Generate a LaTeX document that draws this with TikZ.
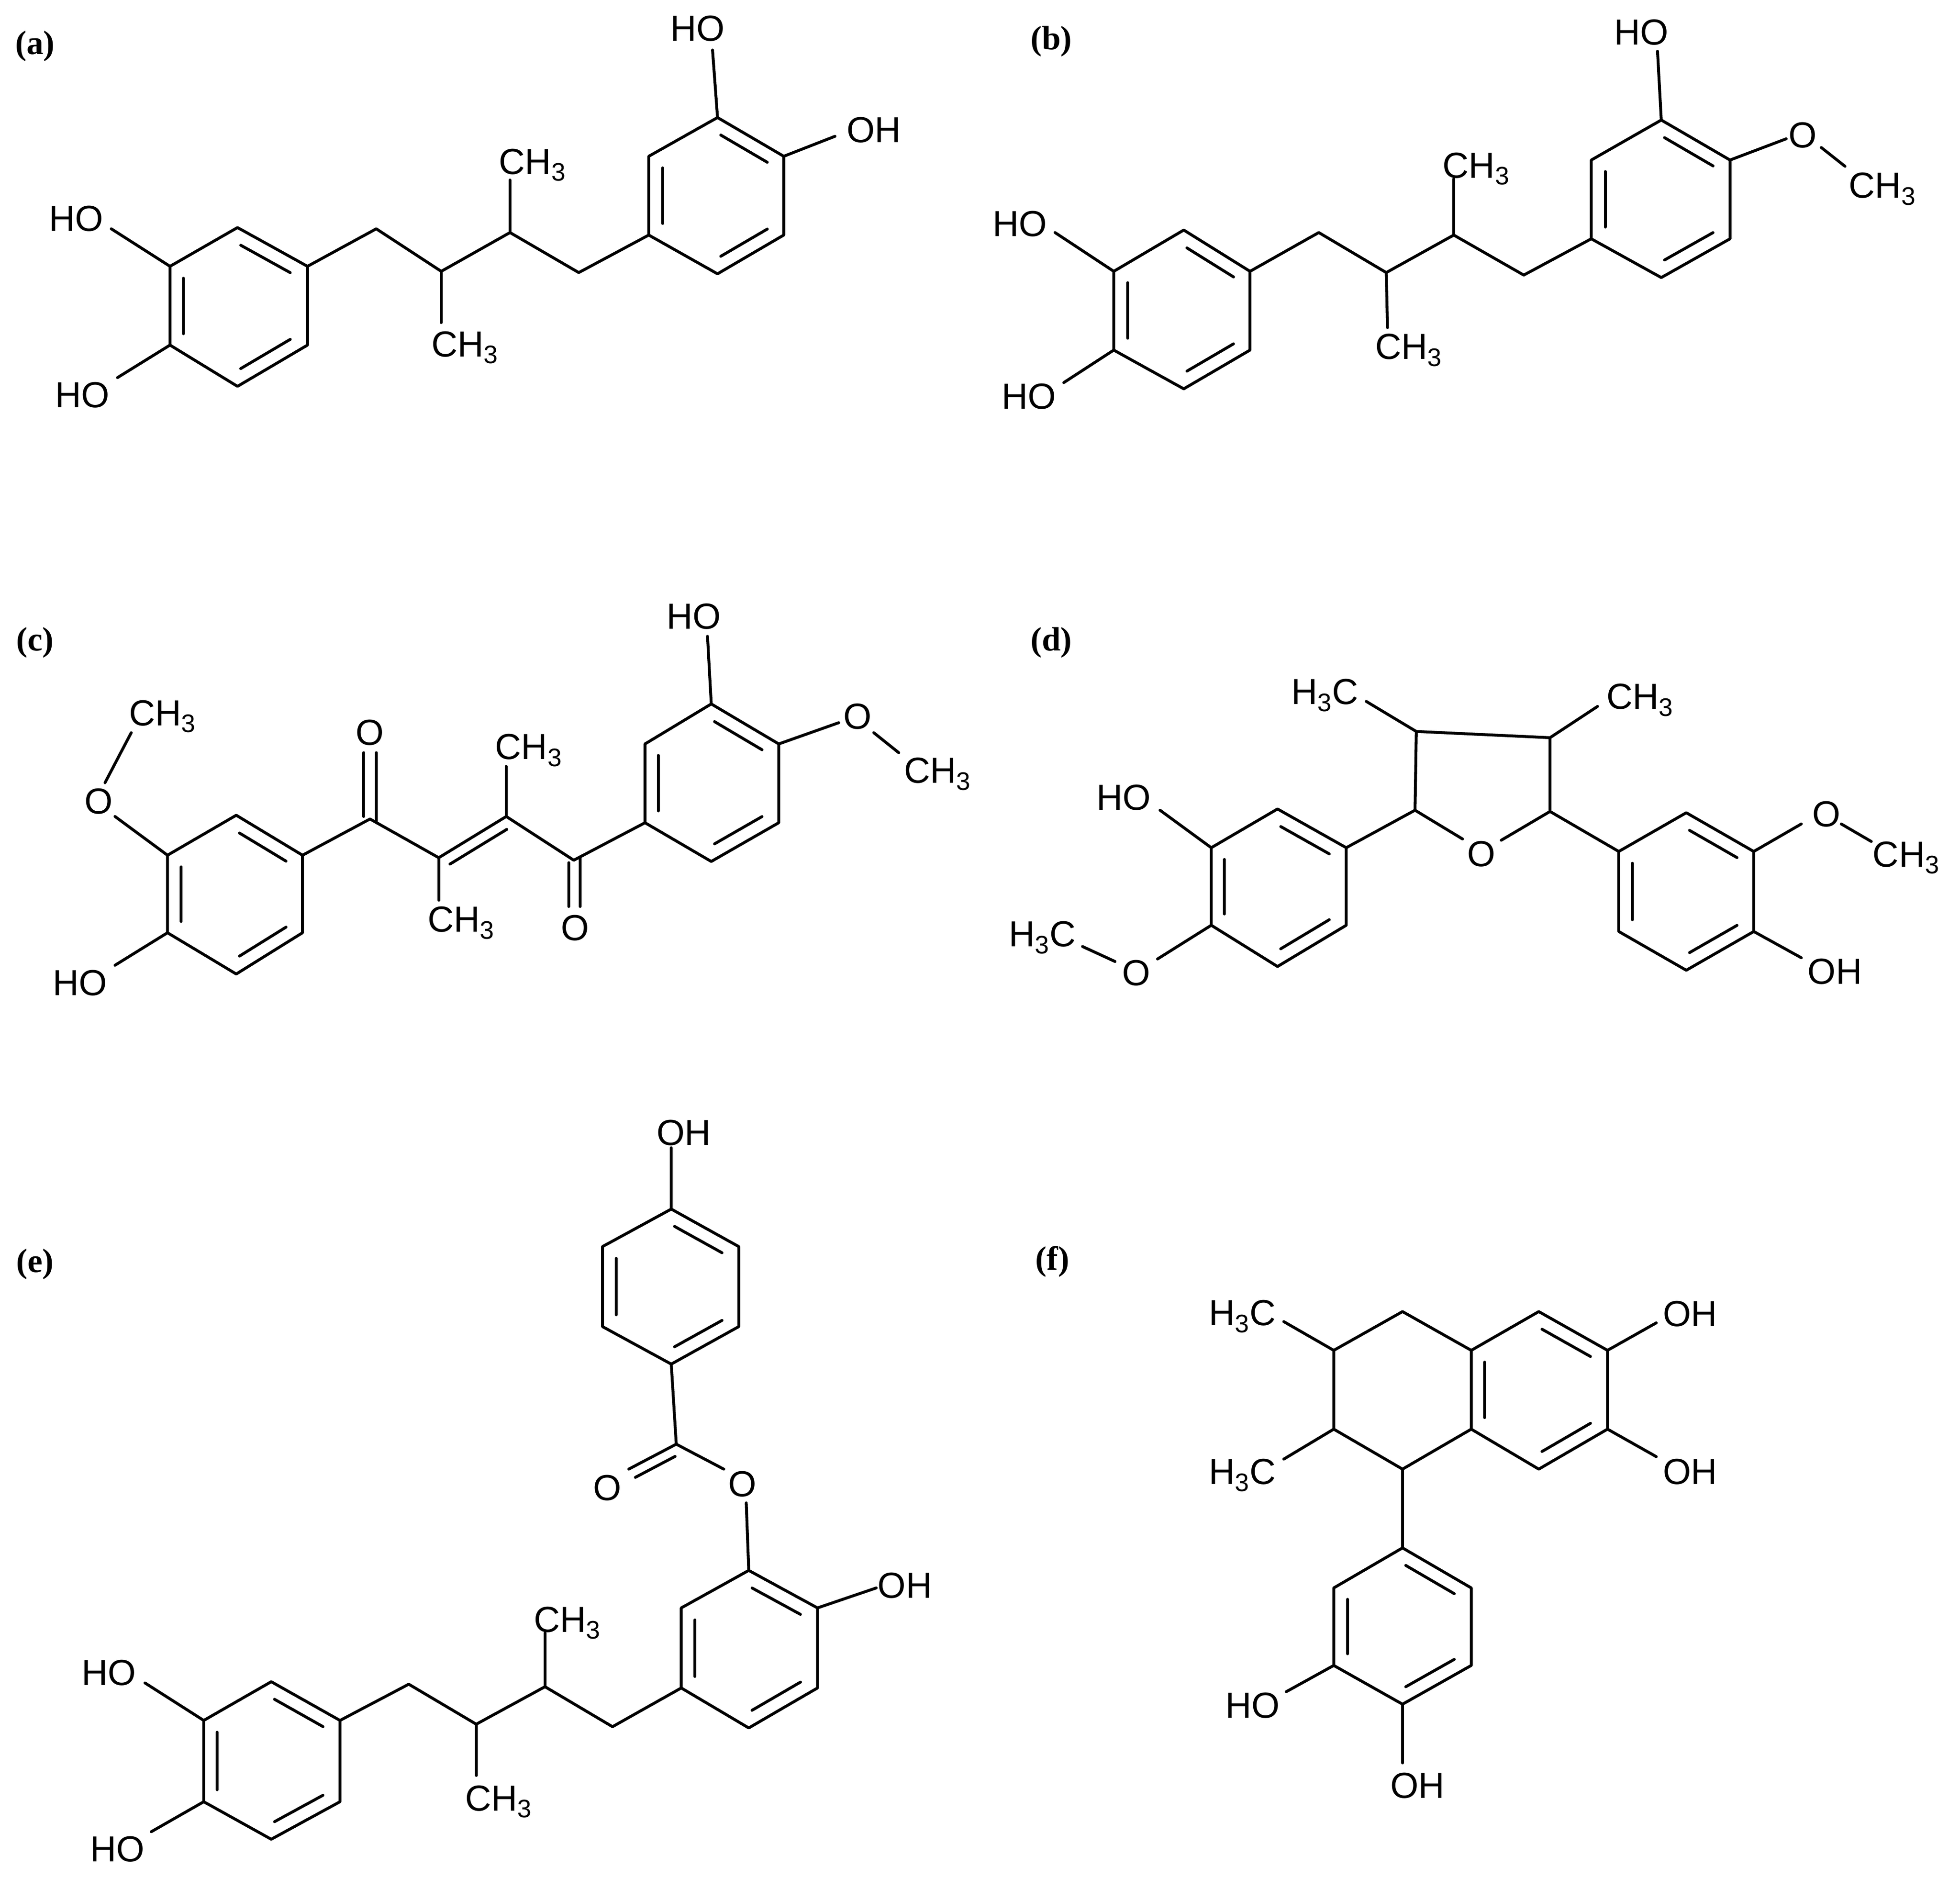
\documentclass[tikz,border=0pt]{standalone}
\usepackage{fontspec}
\setmainfont{Liberation Sans}
\newfontfamily\labfont{Liberation Serif}
\usetikzlibrary{calc}
\tikzset{
  bond/.style={line width=2.3pt, line cap=round, line join=round},
  lbl/.style={font=\fontsize{29}{30}\selectfont, inner sep=0pt},
  panel/.style={font=\labfont\bfseries\fontsize{27}{29}\selectfont, inner sep=0pt}
}
\newcommand\ringP[6]{%
  \draw[bond] (#1)--(#2)--(#3)--(#4)--(#5)--(#6)--cycle;
  \coordinate (rc) at ($(#1)!0.5!(#4)$);
  \draw[bond,shorten <=3pt,shorten >=3pt] ($(rc)!0.8!(#1)$)--($(rc)!0.8!(#2)$);
  \draw[bond,shorten <=3pt,shorten >=3pt] ($(rc)!0.8!(#3)$)--($(rc)!0.8!(#4)$);
  \draw[bond,shorten <=3pt,shorten >=3pt] ($(rc)!0.8!(#5)$)--($(rc)!0.8!(#6)$);
}
\newcommand\CHt{CH\textsubscript{3}}
\newcommand\HtC{H\textsubscript{3}C}
\begin{document}
\begin{tikzpicture}[x=1pt,y=-1pt]
\useasboundingbox (0,0) rectangle (1568,1502);
\fill[white] (0,0) rectangle (1568,1502);
% ===== (a)
\node[panel] (la) at (28,37) {(a)};
\coordinate (a1) at (190,182); \coordinate (a2) at (246,213); \coordinate (a3) at (246,276);
\coordinate (a4) at (190,309); \coordinate (a5) at (136,276); \coordinate (a6) at (136,213);
\ringP{a1}{a2}{a3}{a4}{a5}{a6}
\coordinate (ac1) at (301,183); \coordinate (ac2) at (353,217); \coordinate (ac3) at (408,186); \coordinate (ac4) at (463,218);
\coordinate (b1) at (574,94); \coordinate (b2) at (627,125); \coordinate (b3) at (627,188);
\coordinate (b4) at (574,219); \coordinate (b5) at (519,188); \coordinate (b6) at (519,125);
\ringP{b1}{b2}{b3}{b4}{b5}{b6}
\draw[bond] (a2)--(ac1)--(ac2)--(ac3)--(ac4)--(b5);
\coordinate (am1) at (353,258); \coordinate (am2) at (408,144);
\draw[bond] (ac2)--(am1); \draw[bond] (ac3)--(am2);
\node[lbl] (ame1) at (372,278) {\CHt};
\node[lbl] (ame2) at (426,132) {\CHt};
\coordinate (aho1) at (89,183); \coordinate (aho2) at (94,302);
\draw[bond] (a6)--(aho1); \draw[bond] (a5)--(aho2);
\node[lbl] (ahoT1) at (61,175) {HO};
\node[lbl] (ahoT2) at (66,316) {HO};
\coordinate (aho3) at (570,40); \coordinate (aho4) at (668,109);
\draw[bond] (b1)--(aho3); \draw[bond] (b2)--(aho4);
\node[lbl] (ahoT3) at (558,23) {HO};
\node[lbl] (ahoT4) at (699,104) {OH};
% ===== (b)
\node[panel] (lb) at (841,33) {(b)};
\coordinate (c1) at (947,184); \coordinate (c2) at (1000,217); \coordinate (c3) at (1000,280);
\coordinate (c4) at (947,311); \coordinate (c5) at (891,280); \coordinate (c6) at (891,217);
\ringP{c1}{c2}{c3}{c4}{c5}{c6}
\coordinate (bc1) at (1055,186); \coordinate (bc2) at (1109,218); \coordinate (bc3) at (1163,188); \coordinate (bc4) at (1219,220);
\coordinate (d1) at (1329,96); \coordinate (d2) at (1384,128); \coordinate (d3) at (1384,191);
\coordinate (d4) at (1329,222); \coordinate (d5) at (1273,191); \coordinate (d6) at (1273,128);
\ringP{d1}{d2}{d3}{d4}{d5}{d6}
\draw[bond] (c2)--(bc1)--(bc2)--(bc3)--(bc4)--(d5);
\coordinate (bm1) at (1110,262); \coordinate (bm2) at (1163,143);
\draw[bond] (bc2)--(bm1); \draw[bond] (bc3)--(bm2);
\node[lbl] (bme1) at (1127,280) {\CHt};
\node[lbl] (bme2) at (1181,135) {\CHt};
\coordinate (bho1) at (844,186); \coordinate (bho2) at (851,306);
\draw[bond] (c6)--(bho1); \draw[bond] (c5)--(bho2);
\node[lbl] (bhoT1) at (816,179) {HO};
\node[lbl] (bhoT2) at (823,317) {HO};
\coordinate (bho3) at (1326,41);
\draw[bond] (d1)--(bho3);
\node[lbl] (bhoT3) at (1313,26) {HO};
\coordinate (bo1) at (1429,111); \coordinate (bo2) at (1457,118); \coordinate (bo3) at (1476,133);
\draw[bond] (d2)--(bo1); \draw[bond] (bo2)--(bo3);
\node[lbl] (boT) at (1442,108) {O};
\node[lbl] (bmeT) at (1506,151) {\CHt};
% ===== (c)
\node[panel] (lc) at (28,514) {(c)};
\coordinate (e1) at (189,652); \coordinate (e2) at (242,684); \coordinate (e3) at (242,746);
\coordinate (e4) at (189,779); \coordinate (e5) at (134,746); \coordinate (e6) at (134,684);
\ringP{e1}{e2}{e3}{e4}{e5}{e6}
\coordinate (co1) at (92,653); \coordinate (co2) at (84,626); \coordinate (co3) at (105,586);
\draw[bond] (e6)--(co1); \draw[bond] (co2)--(co3);
\node[lbl] (coT) at (79,641) {O};
\node[lbl] (cmeT) at (130,573) {\CHt};
\coordinate (cho1) at (92,772);
\draw[bond] (e5)--(cho1);
\node[lbl] (choT) at (64,786) {HO};
\coordinate (k1) at (296,655); \coordinate (k2) at (351,686); \coordinate (k3) at (405,653); \coordinate (k4) at (459,688);
\coordinate (f1) at (569,563); \coordinate (f2) at (623,595); \coordinate (f3) at (623,658);
\coordinate (f4) at (569,689); \coordinate (f5) at (516,658); \coordinate (f6) at (516,595);
\ringP{f1}{f2}{f3}{f4}{f5}{f6}
\draw[bond] (e2)--(k1)--(k2)--(k3)--(k4)--(f5);
\draw[bond,shorten <=5pt,shorten >=5pt] ($(k2)+(4.7,7.7)$)--($(k3)+(4.7,7.7)$);
\coordinate (ko1a) at (291,653); \coordinate (ko1b) at (291,602);
\coordinate (ko1c) at (301,658); \coordinate (ko1d) at (301,602);
\draw[bond] (ko1a)--(ko1b); \draw[bond] (ko1c)--(ko1d);
\node[lbl] (ko1T) at (296,586) {O};
\coordinate (ko2a) at (455,690); \coordinate (ko2b) at (455,725);
\coordinate (ko2c) at (464,686); \coordinate (ko2d) at (464,725);
\draw[bond] (ko2a)--(ko2b); \draw[bond] (ko2c)--(ko2d);
\node[lbl] (ko2T) at (460,742) {O};
\coordinate (km1) at (351,720); \coordinate (km2) at (405,613);
\draw[bond] (k2)--(km1); \draw[bond] (k3)--(km2);
\node[lbl] (kme1) at (369,738) {\CHt};
\node[lbl] (kme2) at (423,600) {\CHt};
\coordinate (cho2) at (566,509);
\draw[bond] (f1)--(cho2);
\node[lbl] (choT2) at (555,493) {HO};
\coordinate (co4) at (671,578); \coordinate (co5) at (699,586); \coordinate (co6) at (719,602);
\draw[bond] (f2)--(co4); \draw[bond] (co5)--(co6);
\node[lbl] (coT2) at (686,573) {O};
\node[lbl] (cmeT2) at (750,619) {\CHt};
% ===== (d)
\node[panel] (ld) at (841,514) {(d)};
\coordinate (t1) at (1132,648); \coordinate (t2) at (1133,585); \coordinate (t3) at (1240,590); \coordinate (t5) at (1240,649);
\coordinate (to1) at (1170,671); \coordinate (to2) at (1201,672);
\draw[bond] (to1)--(t1)--(t2)--(t3)--(t5)--(to2);
\node[lbl] (toT) at (1185,683) {O};
\coordinate (tm1) at (1093,561); \coordinate (tm2) at (1278,565);
\draw[bond] (t2)--(tm1); \draw[bond] (t3)--(tm2);
\node[lbl] (tme1) at (1060,556) {\HtC};
\node[lbl] (tme2) at (1312,560) {\CHt};
\coordinate (g1) at (1022,647); \coordinate (g2) at (1077,678); \coordinate (g3) at (1077,740);
\coordinate (g4) at (1022,773); \coordinate (g5) at (969,740); \coordinate (g6) at (969,678);
\ringP{g1}{g2}{g3}{g4}{g5}{g6}
\draw[bond] (t1)--(g2);
\coordinate (dho1) at (928,648);
\draw[bond] (g6)--(dho1);
\node[lbl] (dhoT1) at (899,638) {HO};
\coordinate (do1) at (926,767); \coordinate (do2) at (892,769); \coordinate (do3) at (866,757);
\draw[bond] (g5)--(do1); \draw[bond] (do2)--(do3);
\node[lbl] (doT1) at (909,778) {O};
\node[lbl] (dmeT1) at (834,750) {\HtC};
\coordinate (h1) at (1349,650); \coordinate (h2) at (1403,681); \coordinate (h3) at (1403,745);
\coordinate (h4) at (1349,776); \coordinate (h5) at (1295,745); \coordinate (h6) at (1295,681);
\ringP{h1}{h2}{h3}{h4}{h5}{h6}
\draw[bond] (t5)--(h6);
\coordinate (do4) at (1441,659); \coordinate (do5) at (1473,659); \coordinate (do6) at (1497,673);
\draw[bond] (h2)--(do4); \draw[bond] (do5)--(do6);
\node[lbl] (doT2) at (1461,651) {O};
\node[lbl] (dmeT2) at (1525,686) {\CHt};
\coordinate (dho2) at (1441,766);
\draw[bond] (h3)--(dho2);
\node[lbl] (dhoT2) at (1468,777) {OH};
% ===== (e)
\node[panel] (le) at (28,1011) {(e)};
\coordinate (p1) at (537,967); \coordinate (p2) at (591,997); \coordinate (p3) at (591,1061);
\coordinate (p4) at (537,1091); \coordinate (p5) at (482,1061); \coordinate (p6) at (482,997);
\ringP{p1}{p2}{p3}{p4}{p5}{p6}
\coordinate (eho1) at (537,918);
\draw[bond] (p1)--(eho1);
\node[lbl] (ehoT1) at (547,906) {OH};
\coordinate (ec) at (541,1155); \coordinate (eco) at (503,1175); \coordinate (eoe) at (579,1175);
\draw[bond] (p4)--(ec)--(eco); \draw[bond] (ec)--(eoe);
\draw[bond,shorten <=5pt,shorten >=2pt] ($(ec)+(3.5,7.5)$)--($(eco)+(3.5,7.5)$);
\node[lbl] (ecoT) at (486,1190) {O};
\node[lbl] (eoeT) at (594,1187) {O};
\coordinate (eoe2) at (597,1202);
\coordinate (q1) at (599,1256); \coordinate (q2) at (654,1286); \coordinate (q3) at (654,1350);
\coordinate (q4) at (599,1382); \coordinate (q5) at (545,1350); \coordinate (q6) at (545,1286);
\ringP{q1}{q2}{q3}{q4}{q5}{q6}
\draw[bond] (eoe2)--(q1);
\coordinate (eho2) at (701,1270);
\draw[bond] (q2)--(eho2);
\node[lbl] (ehoT2) at (724,1268) {OH};
\coordinate (ek1) at (490,1381); \coordinate (ek2) at (436,1349); \coordinate (ek3) at (381,1379); \coordinate (ek4) at (327,1347);
\coordinate (r1) at (217,1345); \coordinate (r2) at (272,1376); \coordinate (r3) at (272,1441);
\coordinate (r4) at (217,1471); \coordinate (r5) at (163,1441); \coordinate (r6) at (163,1376);
\ringP{r1}{r2}{r3}{r4}{r5}{r6}
\draw[bond] (q5)--(ek1)--(ek2)--(ek3)--(ek4)--(r2);
\coordinate (em1) at (436,1306); \coordinate (em2) at (381,1420);
\draw[bond] (ek2)--(em1); \draw[bond] (ek3)--(em2);
\node[lbl] (emT1) at (454,1298) {\CHt};
\node[lbl] (emT2) at (399,1441) {\CHt};
\coordinate (eho3) at (116,1346); \coordinate (eho4) at (121,1465);
\draw[bond] (r6)--(eho3); \draw[bond] (r5)--(eho4);
\node[lbl] (ehoT3) at (87,1338) {HO};
\node[lbl] (ehoT4) at (94,1479) {HO};
% ===== (f)
\node[panel] (lf) at (842,1009) {(f)};
\coordinate (s1) at (1231,1049); \coordinate (s2) at (1286,1080); \coordinate (s3) at (1286,1143);
\coordinate (s4) at (1231,1175); \coordinate (s5) at (1177,1143); \coordinate (s6) at (1177,1080);
\ringP{s1}{s2}{s3}{s4}{s5}{s6}
\coordinate (u1) at (1122,1049); \coordinate (u2) at (1067,1080); \coordinate (u3) at (1067,1143); \coordinate (u4) at (1122,1175);
\draw[bond] (s6)--(u1)--(u2)--(u3)--(u4)--(s5);
\coordinate (fm1) at (1027,1057); \coordinate (fm2) at (1027,1167);
\draw[bond] (u2)--(fm1); \draw[bond] (u3)--(fm2);
\node[lbl] (fmT1) at (994,1053) {\HtC};
\node[lbl] (fmT2) at (994,1180) {\HtC};
\coordinate (fo1) at (1325,1058); \coordinate (fo2) at (1325,1165);
\draw[bond] (s2)--(fo1); \draw[bond] (s3)--(fo2);
\node[lbl] (foT1) at (1352,1051) {OH};
\node[lbl] (foT2) at (1352,1177) {OH};
\coordinate (v1) at (1122,1238); \coordinate (v2) at (1177,1270); \coordinate (v3) at (1177,1332);
\coordinate (v4) at (1122,1363); \coordinate (v5) at (1067,1332); \coordinate (v6) at (1067,1270);
\ringP{v1}{v2}{v3}{v4}{v5}{v6}
\draw[bond] (u4)--(v1);
\coordinate (fo3) at (1029,1353); \coordinate (fo4) at (1122,1410);
\draw[bond] (v5)--(fo3); \draw[bond] (v4)--(fo4);
\node[lbl] (foT3) at (1002,1364) {HO};
\node[lbl] (foT4) at (1134,1428) {OH};
\end{tikzpicture}
\end{document}
